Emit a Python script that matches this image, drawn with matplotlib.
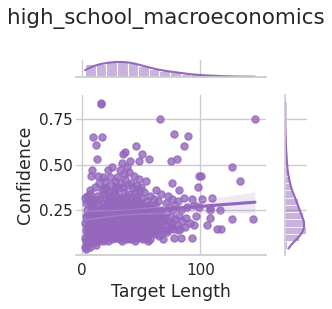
import matplotlib
matplotlib.use("Agg")
import matplotlib.pyplot as plt
import seaborn as sns
import pandas as pd

# values, grouped by x band
target_length = (
    [3, 3, 3, 4, 4, 4, 4, 4, 5, 5, 5, 5, 5, 5, 6, 6, 6, 6, 6, 7, 7, 7, 7, 7, 8, 8, 8, 8, 8, 9, 9, 9, 9, 9, 8, 3, 7]
    + [10] * 5 + [11] * 5 + [12] * 5 + [13] * 5 + [14] * 5 + [15] * 5 + [16] * 5 + [17] * 5 + [18] * 5 + [19] * 5
    + [20] * 6 + [21] * 6 + [22] * 6 + [23] * 6 + [24] * 6 + [25] * 6 + [26] * 6 + [27] * 6 + [28] * 6 + [29] * 6
    + [30] * 7 + [31] * 6 + [32] * 7 + [33] * 6 + [34] * 7 + [35] * 6 + [36] * 7 + [37] * 6 + [38] * 6 + [39] * 6
    + [40] * 6 + [41] * 6 + [42] * 6 + [43] * 5 + [44] * 6 + [45] * 5 + [46] * 6 + [47] * 5 + [48] * 6 + [49] * 5
    + [50] * 5 + [51] * 5 + [52] * 4 + [53] * 4 + [54] * 4 + [55] * 4 + [56] * 4 + [57] * 4 + [58] * 4 + [59] * 3
    + [60, 60, 60, 61, 61, 61, 62, 62, 62, 63, 63, 63, 64, 64, 64, 65, 65, 65, 66, 66, 66, 67, 67, 67, 68, 68, 69, 69]
    + [70, 70, 71, 71, 72, 72, 73, 73, 74, 74, 75, 75, 75, 76, 76, 76, 77, 77, 78, 78, 79, 79]
    + [80, 80, 81, 81, 82, 82, 83, 84, 84, 85, 86, 86, 87, 88, 89, 90]
    + [91, 92.7, 93, 94.6, 95, 96, 98.2, 98.8, 98.8]
    + [100.2, 101.5, 105.7, 108.5, 108.5, 108.5, 110, 114, 116.8, 117.7, 126.5, 126.5, 133.5, 144.6, 146]
)
confidence = (
    [.05, .10, .18, .04, .08, .14, .22, .29, .06, .12, .16, .20, .25, .33, .09, .13, .18, .23, .30,
     .05, .11, .15, .21, .36, .08, .14, .19, .27, .44, .12, .17, .24, .31, .47, .28, .32, .34]
    # 10-19
    + [.07, .13, .19, .27, .65, .09, .15, .21, .30, .38, .06, .12, .17, .24, .61, .10, .16, .22, .33, .53,
       .08, .14, .20, .28, .44, .12, .18, .23, .31, .40, .09, .15, .26, .84, .83, .13, .19, .25, .36, .65,
       .08, .16, .21, .29, .43, .11, .17, .23, .34, .37]
    # 20-29
    + [.09, .14, .20, .25, .32, .41, .11, .16, .22, .28, .37, .18, .08, .13, .19, .24, .30, .47,
       .12, .17, .21, .27, .35, .15, .10, .15, .20, .26, .33, .43, .13, .18, .23, .29, .39, .11,
       .09, .14, .19, .25, .31, .49, .12, .16, .22, .28, .36, .20, .10, .15, .21, .27, .34, .41,
       .11, .17, .24, .30, .38, .14]
    # 30-39
    + [.10, .15, .20, .26, .33, .43, .18, .12, .17, .22, .29, .37, .14, .09, .14, .19, .24, .31, .47, .21,
       .11, .16, .23, .28, .40, .13, .08, .15, .20, .25, .32, .51, .18, .12, .17, .22, .30, .38, .56,
       .10, .14, .19, .26, .35, .45, .16, .11, .18, .24, .31, .42, .57, .09, .15, .21, .27, .33, .49,
       .13, .17, .23, .29, .39, .20]
    # 40-49
    + [.10, .15, .20, .26, .34, .46, .12, .17, .23, .29, .52, .14, .09, .14, .19, .25, .32, .40,
       .11, .16, .21, .28, .37, .13, .18, .24, .30, .44, .10, .08, .15, .20, .27, .35,
       .12, .17, .22, .31, .60, .39, .10, .14, .19, .25, .33, .11, .16, .23, .29, .52, .42,
       .13, .18, .21, .28, .36]
    # 50-59
    + [.10, .16, .22, .29, .38, .12, .18, .24, .32, .56, .09, .14, .20, .27, .11, .17, .23, .35,
       .13, .19, .26, .41, .10, .15, .21, .30, .12, .08, .18, .25, .14, .20, .28, .53,
       .09, .16, .23, .33, .13, .19, .26]
    # 60-69
    + [.13, .19, .26, .15, .22, .31, .12, .18, .28, .14, .21, .36, .16, .24, .30, .11, .17, .23,
       .14, .20, .75, .12, .25, .34, .15, .22, .09, .19]
    # 70-79
    + [.14, .21, .17, .29, .13, .24, .19, .33, .15, .27, .16, .22, .52, .18, .31, .40, .15, .25, .10, .67, .20, .28]
    # 80-90
    + [.17, .53, .14, .30, .22, .36, .15, .10, .25, .19, .60, .32, .16, .21, .27, .66]
    # 91-99
    + [.18, .10, .31, .17, .28, .22, .38, .44, .27]
    # 100+
    + [.44, .31, .17, .26, .25, .21, .32, .15, .25, .15, .20, .49, .41, .20, .75]
)

df = pd.DataFrame({"Target Length": target_length, "Confidence": confidence})
color = "tab:purple"

sns.set_theme(style="whitegrid")

W, H = 332, 309
fig = plt.figure(figsize=(W / 100, H / 100), dpi=100)


def box(l, t, r, b):
    # pixel box (left, top, right, bottom) -> figure fraction
    return [l / W, (H - b) / H, (r - l) / W, (b - t) / H]


ax = fig.add_axes(box(76.4, 95, 266, 255))
ax_top = fig.add_axes(box(76.4, 60, 266, 77), sharex=ax)
ax_right = fig.add_axes(box(285, 95, 307, 255), sharey=ax)

sns.regplot(data=df, x="Target Length", y="Confidence", ax=ax, color=color,
            scatter_kws={"s": 26}, seed=0)
sns.histplot(data=df, x="Target Length", kde=True, color=color, ax=ax_top)
sns.histplot(data=df, y="Confidence", kde=True, color=color, ax=ax_right)

ax.set_xlim(-4.3, 155.3)
ax.set_ylim(0.005, 0.882)
ax.set_xticks([0, 100])
ax.set_yticks([0.25, 0.5, 0.75])
ax.set_xlabel("Target Length", fontsize=12.5)
ax.set_ylabel("Confidence", fontsize=12.5)
ax.tick_params(axis="x", labelsize=11, length=0, pad=5.5)
ax.tick_params(axis="y", labelsize=11, length=0, pad=2.5)
for s in ["top", "right", "left"]:
    ax.spines[s].set_visible(False)

ax_top.set_xlabel("")
ax_top.set_ylabel("")
ax_top.tick_params(labelbottom=False, labelleft=False, length=0)
ax_top.yaxis.grid(False)
for s in ["top", "right", "left"]:
    ax_top.spines[s].set_visible(False)

ax_right.set_xlabel("")
ax_right.set_ylabel("")
ax_right.tick_params(labelbottom=False, labelleft=False, length=0)
ax_right.xaxis.grid(False)
for s in ["top", "right", "bottom"]:
    ax_right.spines[s].set_visible(False)

fig.suptitle("high_school_macroeconomics", fontsize=15.4, y=0.975)

fig.savefig("out.png", dpi=100)
